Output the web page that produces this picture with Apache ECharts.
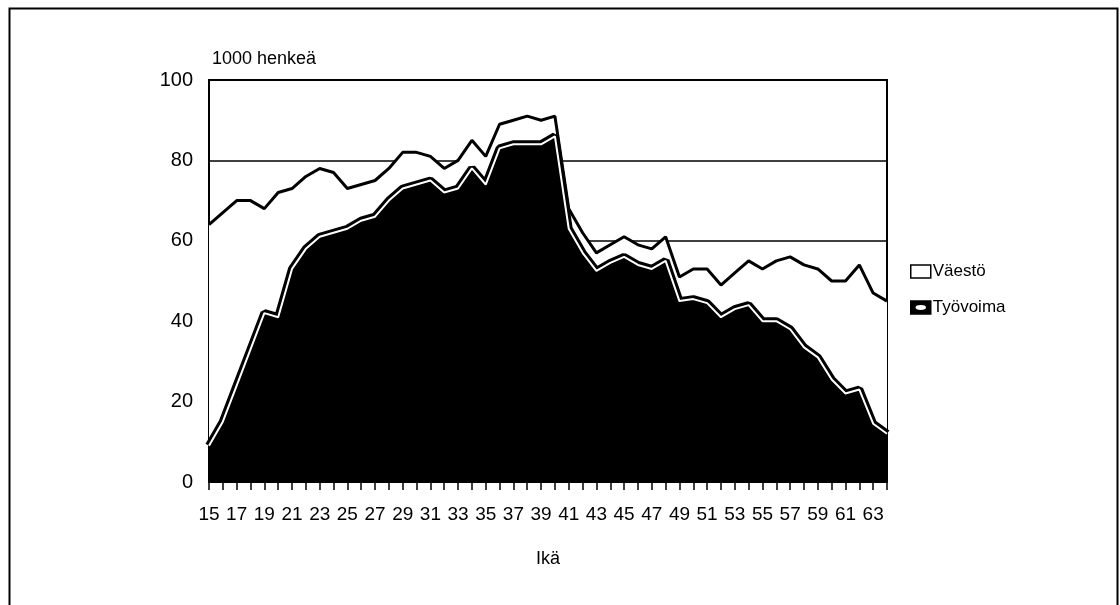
<!DOCTYPE html>
<html>
<head>
<meta charset="utf-8">
<script src="https://cdn.jsdelivr.net/npm/echarts@6/dist/echarts.min.js"></script>
<style>
html,body{margin:0;padding:0;background:#fff;}
#chart{width:1120px;height:605px;}
</style>
</head>
<body>
<div id="chart"></div>
<script>
const ages = [15,16,17,18,19,20,21,22,23,24,25,26,27,28,29,30,31,32,33,34,35,36,37,38,39,40,41,42,43,44,45,46,47,48,49,50,51,52,53,54,55,56,57,58,59,60,61,62,63,64];
const vaesto = [64,67,70,70,68,72,73,76,78,77,73,74,75,78,82,82,81,78,80,85,81,89,90,91,90,91,68,62,57,59,61,59,58,61,51,53,53,49,52,55,53,55,56,54,53,50,50,54,47,45];
const tyovoima = [9,15,24,33,42,41,53,58,61,62,63,65,66,70,73,74,75,72,73,78,74,83,84,84,84,86,63,57,52.5,54.5,56,54,53,55,45,45.5,44.5,41,43,44,40,40,38,33.5,31,25.5,22,23,14.5,12];
const yTicks = [0,20,40,60,80,100];

const FONT = '"Liberation Sans",Arial,sans-serif';
const chart = echarts.init(document.getElementById('chart'), null, {renderer:'canvas'});
chart.setOption({
  animation:false,
  backgroundColor:'#fff',
  textStyle:{fontFamily:FONT, color:'#000'},
  grid:{left:209, right:233, top:80, bottom:123, show:true, borderColor:'#000', borderWidth:2, backgroundColor:'transparent'},
  legend:{
    orient:'vertical', left:905, top:258, itemGap:19, itemWidth:20, itemHeight:13,
    textStyle:{fontFamily:FONT, fontSize:17, color:'#000', padding:[0,0,0,-3]},
    data:[
      {name:'Väestö', icon:'rect', itemStyle:{color:'#fff', borderColor:'#000', borderWidth:1.5}},
      {name:'Työvoima', icon:'path://M0,0 L20,0 L20,13 L0,13 Z M4,6.5 A6,3.2 0 1,0 16,6.5 A6,3.2 0 1,0 4,6.5 Z',
        itemStyle:{color:'#000', borderColor:'#000', borderWidth:1.5}}
    ],
    selectedMode:false
  },
  xAxis:{
    type:'category', data:ages, boundaryGap:false,
    name:'Ikä', nameLocation:'middle', nameGap:68,
    nameTextStyle:{fontFamily:FONT, fontSize:18, color:'#000'},
    axisLine:{lineStyle:{color:'#000', width:2}},
    axisTick:{show:true, interval:0, length:8, lineStyle:{color:'#000', width:1.5}},
    axisLabel:{interval:1, fontFamily:FONT, fontSize:19, color:'#000', margin:23},
    splitLine:{show:false}
  },
  yAxis:{
    type:'value', min:0, max:100, interval:20,
    axisLine:{show:true, lineStyle:{color:'#000', width:2}},
    axisTick:{show:false},
    axisLabel:{fontFamily:FONT, fontSize:20, color:'#000', margin:16,
      formatter:function(v){return yTicks.indexOf(v)>=0 ? String(v) : '';}},
    splitLine:{show:true, lineStyle:{color:'#000', width:1.5}}
  },
  graphic:[
    {type:'rect', left:7, top:6, shape:{x:0,y:0,width:1108,height:610}, style:{fill:'none', stroke:'#000', lineWidth:2}, silent:true, z:-10},
    {type:'text', left:212, top:50, style:{text:'1000 henkeä', font:'18px '+FONT, fill:'#000'}}
  ],
  series:[
    {name:'Väestö', type:'line', data:vaesto, symbol:'none', z:2,
      lineStyle:{color:'#000', width:3},
      areaStyle:{color:'#fff', opacity:1}, itemStyle:{color:'#fff', borderColor:'#000'}},
    {name:'Työvoima', type:'line', data:tyovoima, symbol:'none', z:3,
      lineStyle:{color:'#000', width:8},
      areaStyle:{color:'#000', opacity:1}, itemStyle:{color:'#000'}},
    {name:'Työvoima-raja', type:'line', data:tyovoima, symbol:'none', z:4,
      lineStyle:{color:'#fff', width:2}, silent:true}
  ]
});
</script>
</body>
</html>
